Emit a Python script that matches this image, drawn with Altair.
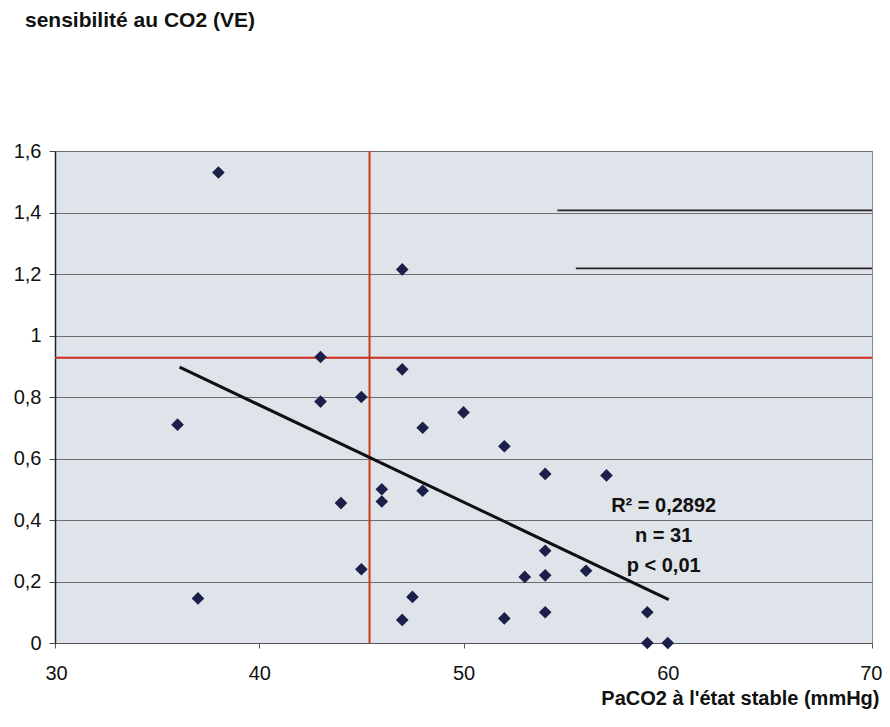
import altair as alt
import pandas as pd

# --- data ---
paco2 = [38, 36, 37, 43, 43, 45, 47, 47, 44, 46, 46, 48, 48, 50, 45, 47.5, 47,
         52, 52, 54, 54, 54, 54, 53, 57, 56, 59, 59, 60]
sens = [1.53, 0.71, 0.145, 0.93, 0.785, 0.80, 1.215, 0.89, 0.455, 0.50, 0.46,
        0.495, 0.70, 0.75, 0.24, 0.15, 0.075, 0.64, 0.08, 0.55, 0.30, 0.22,
        0.10, 0.215, 0.545, 0.235, 0.10, 0.0, 0.0]

trend_x = [36.1, 60.05]
trend_y = [0.897, 0.141]

threshold_y = [0.928]
threshold_x = [45.4]

stray_x1 = [54.6, 55.5]
stray_y = [1.407, 1.218]

x_ticks = [30, 40, 50, 60, 70]
y_ticks = [0, 0.2, 0.4, 0.6, 0.8, 1.0, 1.2, 1.4, 1.6]

stats_lines = ["R² = 0,2892", "n = 31", "p < 0,01"]

pts = pd.DataFrame({"x": paco2, "y": sens})
trend = pd.DataFrame({"x": trend_x, "y": trend_y})
hline = pd.DataFrame({"y": threshold_y})
vline = pd.DataFrame({"x": threshold_x})
stray = pd.DataFrame({"x": stray_x1, "x2": [70] * len(stray_x1), "y": stray_y})

xscale = alt.Scale(domain=[30, 70], nice=False, zero=False)
yscale = alt.Scale(domain=[0, 1.6], nice=False)

xaxis = alt.Axis(
    values=x_ticks, grid=False, title="PaCO2 à l'état stable (mmHg)",
    titleFontWeight="bold", titleFontSize=20, titleColor="#111",
    titleAlign="right", titleBaseline="alphabetic", titleX=824, titleY=61,
    labelFontSize=20, labelColor="#111", labelPadding=15, tickSize=5,
    tickColor="#555", domainColor="#555",
    labelFlush=True, labelFlushOffset=10,
)
yaxis = alt.Axis(
    values=y_ticks, grid=True, gridColor="#6e6e6e", gridWidth=1.2, title=None,
    labelFontSize=20, labelColor="#111", labelPadding=8, tickSize=6,
    tickColor="#444", domainColor="#222", domainWidth=1.5,
    labelExpr="replace(format(datum.value, '.1~f'), '.', ',')",
)

base_pts = alt.Chart(pts).mark_point(
    shape="diamond", filled=True, size=160, color="#1c1f4a", opacity=1
).encode(
    x=alt.X("x:Q", scale=xscale, axis=xaxis),
    y=alt.Y("y:Q", scale=yscale, axis=yaxis),
)

stray_rules = alt.Chart(stray).mark_rule(color="#222", strokeWidth=1.8).encode(
    x="x:Q", x2="x2:Q", y="y:Q"
)

h_rule = alt.Chart(hline).mark_rule(color="#cc2b1d", strokeWidth=2).encode(y="y:Q")
v_rule = alt.Chart(vline).mark_rule(color="#c53a1c", strokeWidth=2).encode(x="x:Q")

trend_line = alt.Chart(trend).mark_line(color="#111", strokeWidth=3).encode(
    x="x:Q", y="y:Q"
)

stats = alt.Chart(pd.DataFrame({"t": [stats_lines]})).mark_text(
    fontSize=20, fontWeight="bold", color="#111", align="center",
    baseline="middle", lineHeight=30,
).encode(
    x=alt.datum(59.8), y=alt.datum(0.447), text="t:N"
)

chart = alt.layer(
    stray_rules, h_rule, v_rule, trend_line, base_pts, stats
).properties(
    width=817, height=492,
    autosize=alt.AutoSizeParams(type="none"),
    padding={"left": 47, "top": 143, "right": 10, "bottom": 72},
    title=alt.TitleParams(
        "sensibilité au CO2 (VE)", anchor="start", frame="group", dx=-30,
        offset=110, fontSize=21, fontWeight="bold", color="#111",
    ),
).configure(
    font="Liberation Sans",
).configure_view(
    fill="#dfe4ea", stroke="#8a8a8a", strokeWidth=1,
)

chart.save("out.html", embed_options={"renderer": "svg", "actions": False})
